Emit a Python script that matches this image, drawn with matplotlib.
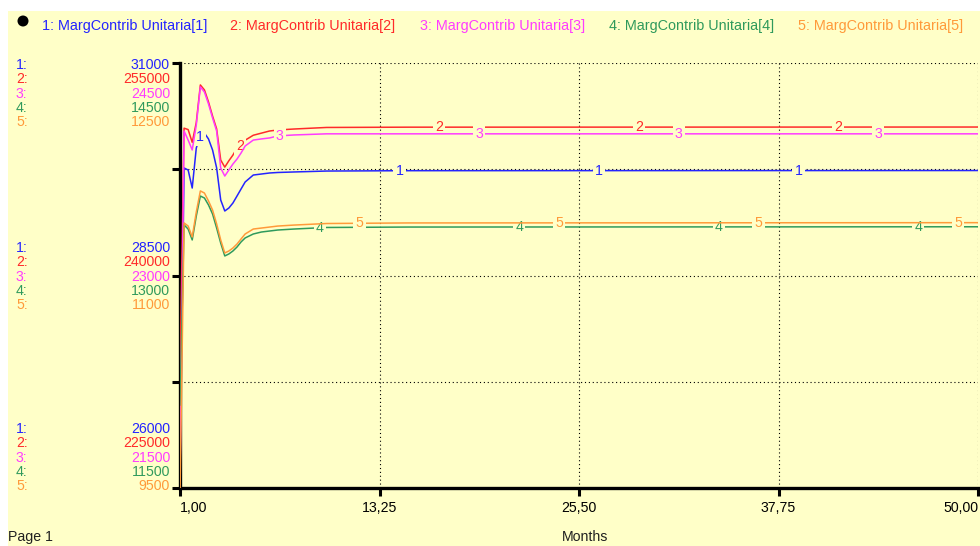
import numpy as np
import matplotlib
matplotlib.use("Agg")
import matplotlib.pyplot as plt
from matplotlib.patches import Rectangle, Ellipse

plt.rcParams['font.family'] = ['Liberation Sans', 'DejaVu Sans']

W, H = 980, 546
BG = '#ffffc8'

# time axis (months) and the five series
months = [1, 1.25, 1.5, 1.75, 2.0, 2.25, 2.5, 2.75, 3.0, 3.25, 3.5, 3.75, 4.0,
          4.25, 4.5, 4.75, 5.0, 5.5, 6.0, 6.5, 7, 8, 10, 15, 50]

mc1 = [26118, 29765, 29741, 29529, 30000, 30141, 30176, 30106, 29976, 29765,
       29388, 29259, 29294, 29353, 29435, 29518, 29600, 29682, 29694, 29706,
       29712, 29718, 29729, 29733, 29735]
mc2 = [233200, 250400, 250300, 249400, 250800, 253450, 253100, 252250, 251250,
       250350, 248150, 247650, 248100, 248500, 249000, 249200, 249550, 249900,
       250050, 250200, 250270, 250340, 250450, 250470, 250480]
mc3 = [21585, 24020, 23956, 23886, 24062, 24331, 24295, 24211, 24112, 24020,
       23759, 23702, 23745, 23787, 23822, 23865, 23914, 23956, 23964, 23971,
       23985, 23992, 24000, 24000, 24000]
mc4 = [12086, 13357, 13328, 13251, 13420, 13561, 13547, 13498, 13434, 13335,
       13229, 13138, 13152, 13173, 13201, 13237, 13265, 13293, 13307, 13314,
       13321, 13328, 13339, 13342, 13344]
mc5 = [9450, 11371, 11349, 11272, 11448, 11597, 11582, 11526, 11462, 11364,
       11251, 11159, 11173, 11194, 11222, 11258, 11293, 11328, 11335, 11342,
       11349, 11356, 11367, 11371, 11373]

series = [mc1, mc2, mc3, mc4, mc5]
names = ['MargContrib Unitaria[%d]' % i for i in range(1, 6)]
colors = ['#2424ff', '#ff2a2a', '#ff3cff', '#2f9a5c', '#ff9a3a']
y_low = [26000, 225000, 21500, 11500, 9500]
y_high = [31000, 255000, 24500, 14500, 12500]
y_mid = [28500, 240000, 23000, 13000, 11000]

x_ticks = [1, 13.25, 25.5, 37.75, 50]
x_tick_labels = ['1,00', '13,25', '25,50', '37,75', '50,00']


def fpos(x, y):
    return x / W, 1 - y / H


fig = plt.figure(figsize=(W / 100, H / 100), dpi=100, facecolor='white')
fig.add_artist(Rectangle(fpos(8, H), (W - 8) / W, (H - 11) / H,
                         transform=fig.transFigure, facecolor=BG,
                         edgecolor='none', zorder=-10))

left, right, top, bottom = 180, 978, 63, 488
ax = fig.add_axes([left / W, 1 - bottom / H, (right - left) / W, (bottom - top) / H])
ax.patch.set_visible(False)

ax.set_xlim(1, 50)
ax.set_ylim(y_low[0], y_high[0])
ax.set_xticks(x_ticks)
ax.set_xticklabels(x_tick_labels, fontsize=10.2)
ax.get_xticklabels()[0].set_horizontalalignment('left')
ax.get_xticklabels()[-1].set_horizontalalignment('right')
ax.set_yticks(np.linspace(y_low[0], y_high[0], 5))
ax.set_yticklabels([])
ax.tick_params(axis='both', direction='out', length=6, width=2.2, color='black')
ax.tick_params(axis='x', pad=3)
for s in ['top', 'right']:
    ax.spines[s].set_visible(False)
for s in ['left', 'bottom']:
    ax.spines[s].set_linewidth(2.4)
ax.grid(True, color='black', linestyle=(0, (1, 2.5)), linewidth=0.8)

# one scale per series, like the original tool
axes = [ax]
for k in range(1, 5):
    a = ax.twinx()
    a.set_ylim(y_low[k], y_high[k])
    a.set_axis_off()
    axes.append(a)

for k, (a, vals) in enumerate(zip(axes, series)):
    a.plot(months, vals, color=colors[k], linewidth=1.1, zorder=3)
    for j in range(4):
        t = 1 + 12.25 * (j + 0.1 + 0.2 * k)
        v = np.interp(t, months, vals)
        a.text(t, v, str(k + 1), color=colors[k], fontsize=10.2, ha='center',
               va='center', zorder=4,
               bbox=dict(boxstyle='square,pad=0.15', facecolor=BG, edgecolor='none'))

# legend line at the top
fig.add_artist(Ellipse(fpos(23, 21), 11 / W, 11 / H, transform=fig.transFigure,
                       facecolor='black', edgecolor='none'))
for k, x0 in enumerate([42, 230, 420, 609, 798]):
    fig.text(*fpos(x0, 26), '%d: %s' % (k + 1, names[k]), color=colors[k],
             fontsize=10.4, ha='left', va='center')

# scale labels on the left
blocks = [(y_high, 65), (y_mid, 248), (y_low, 429)]
for vals, y0 in blocks:
    for k in range(5):
        y = y0 + k * 14.3
        fig.text(*fpos(16, y), '%d:' % (k + 1), color=colors[k], fontsize=10.2,
                 ha='left', va='center')
        fig.text(*fpos(170, y), '%d' % vals[k], color=colors[k], fontsize=10.2,
                 ha='right', va='center')

fig.text(*fpos(8, 537), 'Page 1', fontsize=10.2, ha='left', va='center', color='#202020')
fig.text(*fpos(585, 537), 'Months', fontsize=10.2, ha='center', va='center', color='#202020')

fig.savefig('out.png', dpi=100, facecolor='white')
